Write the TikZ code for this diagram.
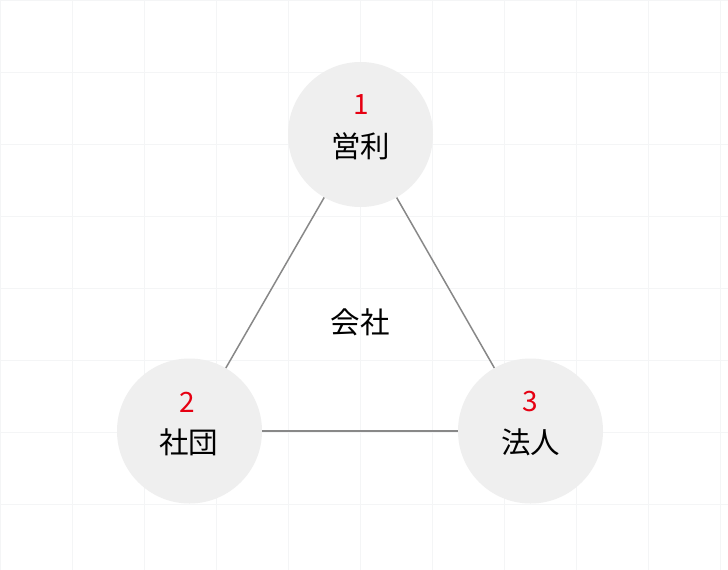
\documentclass[tikz,border=0pt]{standalone}
\usepackage{fontspec}
\setmainfont{Noto Sans CJK JP}
\definecolor{gridc}{HTML}{F4F5F6}
\definecolor{circc}{HTML}{EFEFEF}
\definecolor{linec}{HTML}{888888}
\definecolor{numc}{HTML}{E60012}
\tikzset{
  gridline/.style={draw=gridc, line width=1.6pt},
  circ/.style={circle, fill=circc, inner sep=0pt, minimum size=145pt},
  conn/.style={draw=linec, line width=1.5pt},
  numtxt/.style={text=numc, font=\fontsize{28}{32}\selectfont, inner sep=0pt},
  lbl/.style={text=black, font=\fontsize{29.5}{34}\selectfont, inner sep=0pt}
}
\begin{document}
\begin{tikzpicture}[x=1pt,y=-1pt]
\useasboundingbox (0,0) rectangle (728,570);
\fill[white] (0,0) rectangle (728,570);
\foreach \gx in {0,72,...,720} \draw[gridline] (\gx+0.5,0) -- (\gx+0.5,570);
\foreach \gy in {0,72,...,504} \draw[gridline] (0,\gy+0.5) -- (728,\gy+0.5);
\node[circ] (top) at (360.5,134.5) {};
\node[circ] (left) at (189.5,431) {};
\node[circ] (right) at (530.5,431) {};
\draw[conn] (top) -- (left);
\draw[conn] (top) -- (right);
\draw[conn] (left) -- (right);
\node[numtxt] (n1) at (361,104.5) {1};
\node[lbl] (t1) at (360.5,146) {営利};
\node[numtxt] (n2) at (187,402) {2};
\node[lbl] (t2) at (188.5,442) {社団};
\node[numtxt] (n3) at (530.5,401.5) {3};
\node[lbl] (t3) at (530.5,442) {法人};
\node[lbl] (c) at (360,322) {会社};
\end{tikzpicture}
\end{document}
